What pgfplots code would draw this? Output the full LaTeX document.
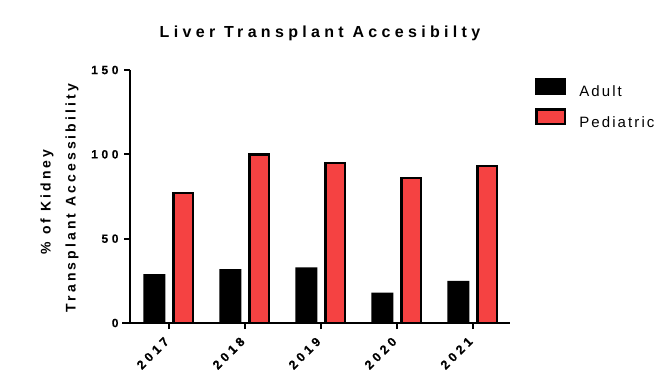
\documentclass[border=0pt]{standalone}
\usepackage{fontspec}
\usepackage{pgfplots}
\pgfplotsset{compat=1.18}
\setmainfont{Liberation Sans}
\newfontfamily\titlefont[LetterSpace=27]{Liberation Sans}
\newfontfamily\labfont[LetterSpace=22]{Liberation Sans}
\newfontfamily\tickfont[LetterSpace=30,FakeBold=0.4]{Liberation Sans}
\newfontfamily\legfont[LetterSpace=14]{Liberation Sans}
\definecolor{pedred}{RGB}{245,66,66}
\begin{document}
\begin{tikzpicture}
\useasboundingbox (0,0) rectangle (671pt,391pt);
\node[anchor=base] at (320pt,353pt) {\fontsize{16}{19}\selectfont\titlefont\bfseries Liver Transplant Accesibilty};
\node[rotate=90] at (47pt,189pt) {\fontsize{14}{17}\selectfont\labfont\bfseries \% of Kidney};
\node[rotate=90] at (72pt,193pt) {\fontsize{14}{17}\selectfont\labfont\bfseries Transplant Accessibility};
\begin{axis}[
  at={(130pt,68pt)}, anchor=south west,
  scale only axis, width=380pt, height=253pt,
  xmin=-0.513, xmax=4.49, ymin=0, ymax=150,
  axis x line*=bottom, axis y line*=left,
  axis line style={line width=2.5pt},
  x axis line style={shorten <=-8pt},
  tick align=outside, major tick length=6pt,
  tick style={line width=2pt, black},
  xtick={0,1,2,3,4}, xticklabels={2017,2018,2019,2020,2021},
  ytick={0,50,100,150},
  /pgf/number format/assume math mode=true,
  yticklabel style={font=\fontsize{12}{14}\selectfont\tickfont\bfseries},
  yticklabel shift=2pt,
  xticklabel style={font=\fontsize{12.5}{14}\selectfont\tickfont\bfseries, rotate=45, anchor=east},
  xticklabel shift=8pt,
  legend style={draw=none, fill=none, at={(1.066,0.968)}, anchor=north west,
    inner sep=0pt, row sep=10pt, nodes={inner sep=0pt},
    font=\fontsize{15}{18}\selectfont\legfont,
    /tikz/every odd column/.append style={column sep=13pt}},
  legend cell align=left,
  clip=false,
]
\addplot[ybar, bar width=22pt, bar shift=-14.5pt, fill=black, draw=none,
  legend image code/.code={\fill[black] (0pt,-3pt) rectangle (31pt,14pt);}]
  coordinates {(0,29) (1,32) (2,33) (3,18) (4,25)};
\addlegendentry{Adult}
\addplot[ybar, bar width=19.5pt, bar shift=14.5pt, fill=pedred, draw=black, line width=2.5pt,
  legend image code/.code={\draw[fill=pedred, draw=black, line width=2.5pt] (1.25pt,-1.75pt) rectangle (29.75pt,12.75pt);}]
  coordinates {(0,77) (1,100) (2,95) (3,86) (4,93)};
\addlegendentry{Pediatric}
\end{axis}
\end{tikzpicture}
\end{document}
